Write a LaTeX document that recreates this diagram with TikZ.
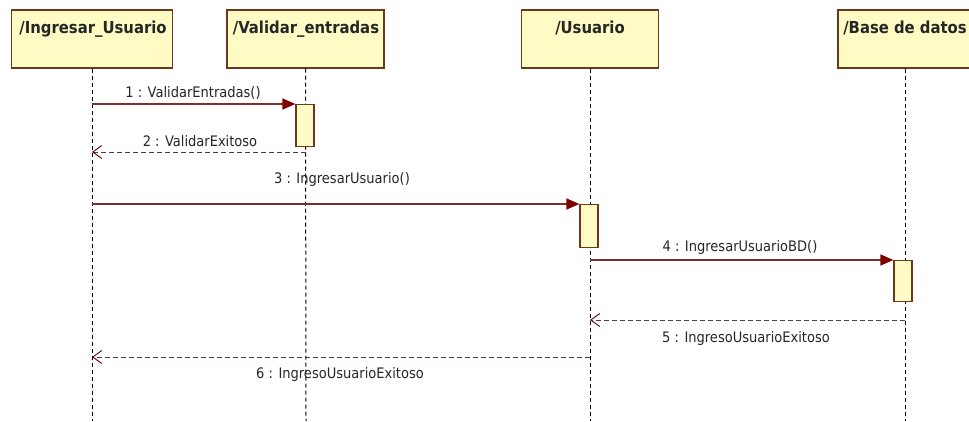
\documentclass[tikz,border=0pt]{standalone}
\usepackage{fontspec}
\setmainfont{DejaVu Sans Condensed}
\newfontfamily\hdrfont{DejaVu Sans Condensed Bold}
\usetikzlibrary{arrows.meta}
\definecolor{boxfill}{RGB}{255,251,196}
\definecolor{boxdraw}{RGB}{110,55,25}
\definecolor{msgline}{RGB}{130,45,45}
\definecolor{arrowfill}{RGB}{128,0,0}
\definecolor{retline}{RGB}{80,60,60}
\tikzset{
  hdrbox/.style={draw=boxdraw, fill=boxfill, line width=1.4pt, minimum height=58pt, inner sep=0pt},
  hdrtext/.style={font=\hdrfont\fontsize{16.5}{18}\selectfont, anchor=base, inner sep=0pt, text=black!85},
  actbox/.style={draw=boxdraw, fill=boxfill, line width=1.2pt, minimum width=18pt, inner sep=0pt, anchor=north},
  lifeline/.style={draw=black, line width=1pt, dash pattern=on 4pt off 3pt},
  callmsg/.style={draw=msgline, line width=1.3pt, -{Triangle[length=13pt,width=11pt,fill=arrowfill,color=arrowfill]}},
  retmsg/.style={draw=retline, line width=1pt, dash pattern=on 5pt off 3pt, -{Straight Barb[length=9pt,width=13pt,color=arrowfill!80!black,line width=0.9pt]}},
  msglabel/.style={font=\fontsize{14.5}{16}\selectfont, inner sep=0pt, text=black!85}
}
\begin{document}
\begin{tikzpicture}[x=1pt,y=-1pt]
\useasboundingbox[fill=white] (0,0) rectangle (969,421);
% header boxes
\node[hdrbox, minimum width=161pt] (h1) at (92,39) {};
\node[hdrbox, minimum width=157pt] (h2) at (305.5,39) {};
\node[hdrbox, minimum width=137pt] (h3) at (590,39) {};
\node[hdrbox, minimum width=134pt] (h4) at (905,39) {};
\node[hdrtext] (t1) at (93,33) {/Ingresar\_Usuario};
\node[hdrtext] (t2) at (306,33) {/Validar\_entradas};
\node[hdrtext] (t3) at (590,33) {/Usuario};
\node[hdrtext] (t4) at (905,33) {/Base de datos};
% lifeline ends
\coordinate (e1) at (92,421);
\coordinate (e2) at (306,421);
\coordinate (e3) at (590,421);
\coordinate (e4) at (905,421);
\draw[lifeline] (h1.south) -- (e1);
\draw[lifeline] (h2.south) -- (e2);
\draw[lifeline] (h3.south) -- (e3);
\draw[lifeline] (h4.south) -- (e4);
% activation boxes
\node[actbox, minimum height=42pt] (a2) at (305,104) {};
\node[actbox, minimum height=43pt] (a3) at (589,204) {};
\node[actbox, minimum height=41pt] (a4) at (903,260) {};
% message endpoints on lifelines
\coordinate (m1s) at (92,104);
\coordinate (m2s) at (306,152);
\coordinate (m2e) at (92,152);
\coordinate (m3s) at (92,204);
\coordinate (m4s) at (590,260);
\coordinate (m5s) at (905,320);
\coordinate (m5e) at (590,320);
\coordinate (m6s) at (590,357);
\coordinate (m6e) at (92,357);
% messages
\draw[callmsg] (m1s) -- (a2.north west);
\draw[retmsg] (m2s) -- (m2e);
\draw[callmsg] (m3s) -- (a3.north west);
\draw[callmsg] (m4s) -- (a4.north west);
\draw[retmsg] (m5s) -- (m5e);
\draw[retmsg] (m6s) -- (m6e);
% labels
\node[msglabel] (l1) at (193,93) {1 : ValidarEntradas()};
\node[msglabel] (l2) at (200,141) {2 : ValidarExitoso};
\node[msglabel] (l3) at (342,179) {3 : IngresarUsuario()};
\node[msglabel] (l4) at (740,247) {4 : IngresarUsuarioBD()};
\node[msglabel] (l5) at (746,338) {5 : IngresoUsuarioExitoso};
\node[msglabel] (l6) at (340,374) {6 : IngresoUsuarioExitoso};
\end{tikzpicture}
\end{document}
